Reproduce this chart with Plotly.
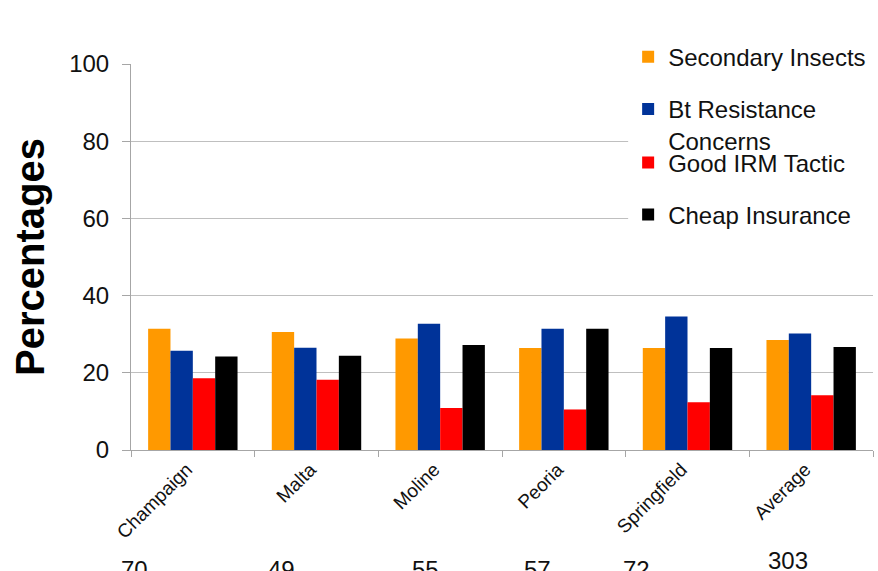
import plotly.graph_objects as go

categories = ["Champaign", "Malta", "Moline", "Peoria", "Springfield", "Average"]
secondary_insects = [31.4, 30.6, 28.9, 26.4, 26.4, 28.5]
bt_resistance = [25.7, 26.5, 32.7, 31.4, 34.6, 30.2]
good_irm = [18.6, 18.2, 10.9, 10.5, 12.4, 14.2]
cheap_insurance = [24.2, 24.4, 27.2, 31.4, 26.4, 26.7]
sample_sizes = ["70", "49", "55", "57", "72", "303"]

series_names = ["Secondary Insects", "Bt Resistance<br>Concerns", "Good IRM Tactic", "Cheap Insurance"]
series_values = [secondary_insects, bt_resistance, good_irm, cheap_insurance]
colors = ["#FF9900", "#003399", "#FF0000", "#000000"]
legend_ids = ["legend", "legend2", "legend3", "legend4"]

FONT = "Liberation Sans, Arial, sans-serif"

fig = go.Figure()
for name, vals, col, lg in zip(series_names, series_values, colors, legend_ids):
    fig.add_trace(go.Bar(x=categories, y=vals, name=name, marker_color=col,
                         marker_line_width=0, legend=lg, showlegend=True))

# layout positions for the sample-size labels (offset from category centre, in category units)
size_x_offset = [-0.47, -0.28, -0.12, -0.21, -0.41, -0.19]
size_y = [-0.27, -0.27, -0.27, -0.27, -0.27, -0.245]
annotations = []
for i, (txt, dx, yy) in enumerate(zip(sample_sizes, size_x_offset, size_y)):
    annotations.append(dict(x=i + dx, y=yy, xref="x", yref="paper", text=txt,
                            showarrow=False, yanchor="top", xanchor="center",
                            font=dict(size=24, color="#111111", family=FONT)))

leg_common = dict(bgcolor="rgba(255,255,255,0)", font=dict(size=24, color="#111111", family=FONT),
                  xanchor="left", x=0.67, itemwidth=30, borderwidth=0, maxheight=571)

fig.update_layout(
    width=878, height=571,
    margin=dict(l=131, r=5, t=64, b=121, autoexpand=False),
    paper_bgcolor="white", plot_bgcolor="white",
    font=dict(family=FONT, color="#111111"),
    barmode="group", bargap=0.277, bargroupgap=0,
    showlegend=True,
    annotations=annotations,
    legend=dict(**leg_common, y=1.018, yanchor="middle"),
    legend2=dict(**leg_common, y=0.842, yanchor="middle", valign="top"),
    legend3=dict(**leg_common, y=0.7435, yanchor="middle"),
    legend4=dict(**leg_common, y=0.6088, yanchor="middle"),
    shapes=[dict(type="rect", xref="paper", yref="paper", x0=0.67, x1=1.01,
                 y0=0.56, y1=1.06, fillcolor="white", line_width=0, layer="above")],
    xaxis=dict(range=[-0.5, 5.5], showline=True, linecolor="#A6A6A6", linewidth=1,
               ticks="outside", tickson="boundaries", ticklen=6, tickcolor="#A6A6A6",
               tickangle=-45, ticklabelshift=-6, automargin=False,
               tickfont=dict(size=19, color="#111111", family=FONT), showgrid=False),
    yaxis=dict(range=[0, 100], tickvals=[0, 20, 40, 60, 80, 100], showline=True,
               linecolor="#A6A6A6", linewidth=1, ticks="outside", ticklen=8,
               tickcolor="#A6A6A6", gridcolor="#BFBFBF", gridwidth=1,
               ticklabelstandoff=8, automargin=False,
               tickfont=dict(size=24, color="#111111", family=FONT),
               title=dict(text="<b>Percentages</b>", standoff=12,
                          font=dict(size=40, color="#000000", family=FONT)),
               zeroline=False),
)

fig.write_html("out.html")
